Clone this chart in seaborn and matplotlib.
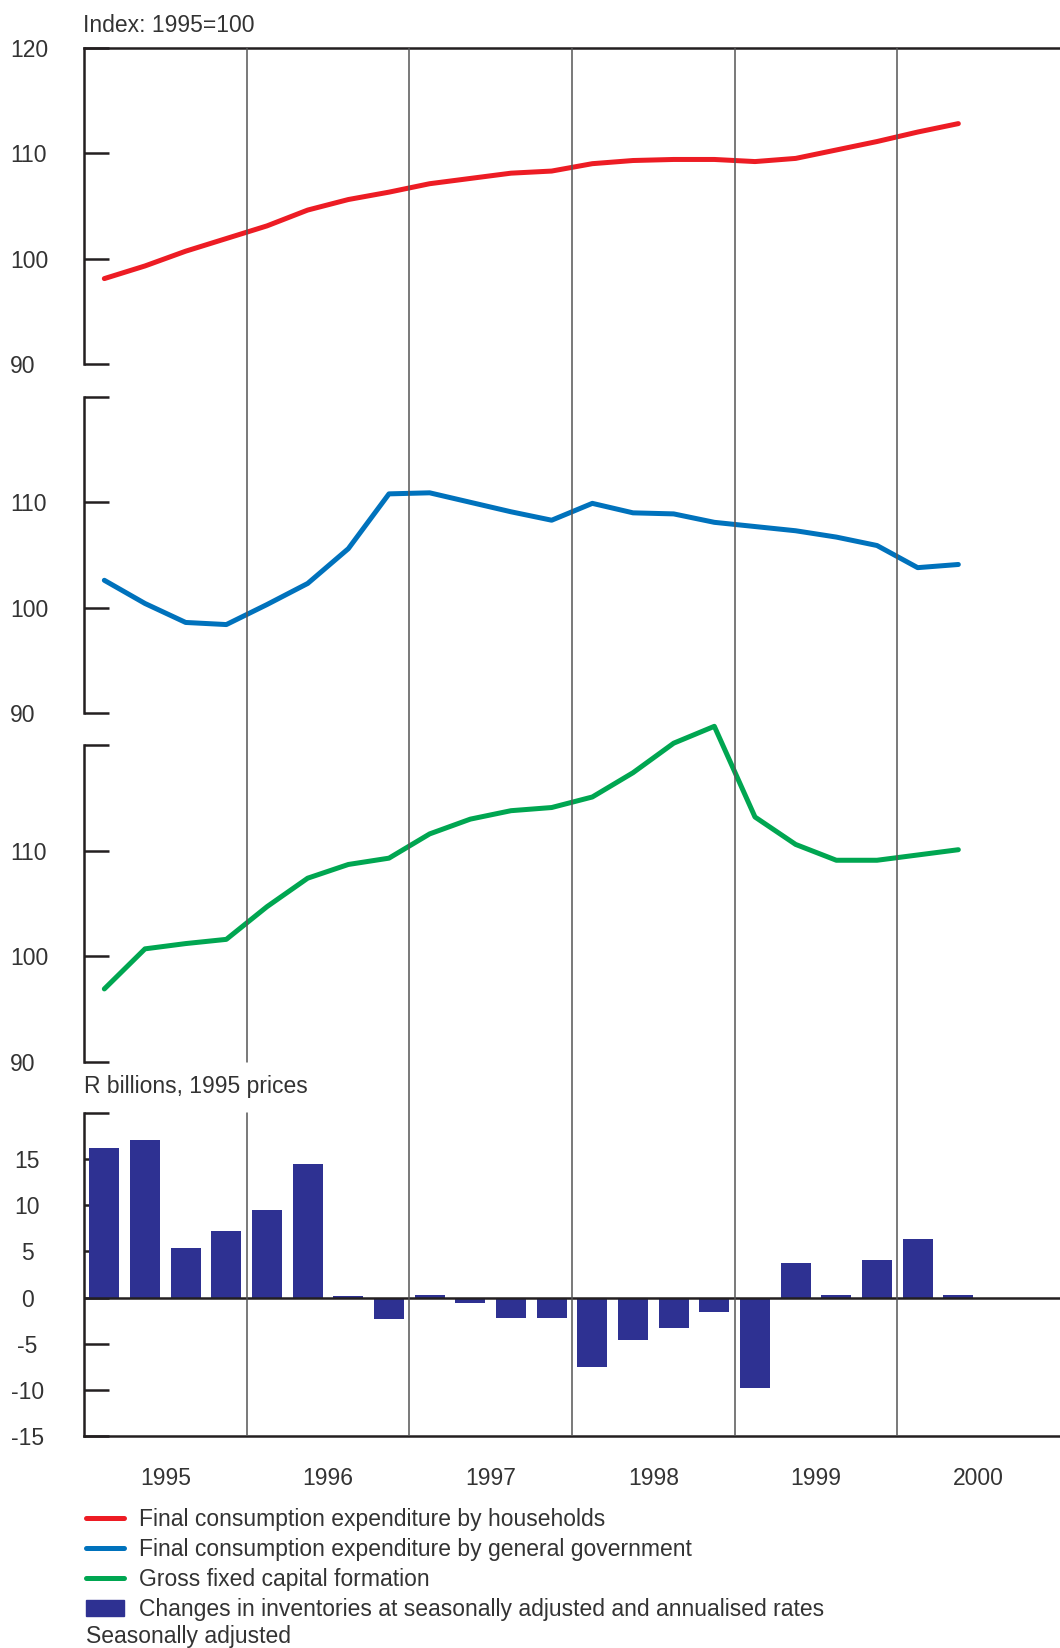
import numpy as np
import pandas as pd
import matplotlib
matplotlib.use("Agg")
import matplotlib.pyplot as plt
import seaborn as sns
from matplotlib.patches import Patch

# Quarterly data, 1995Q1 - 2000Q2
quarters = pd.period_range("1995Q1", "2000Q2", freq="Q")
households = [98.1, 99.3, 100.7, 101.9, 103.1, 104.6, 105.6, 106.3, 107.1, 107.6, 108.1,
              108.3, 109.0, 109.3, 109.4, 109.4, 109.2, 109.5, 110.3, 111.1, 112.0, 112.8]
government = [102.6, 100.4, 98.6, 98.4, 100.3, 102.3, 105.6, 110.8, 110.9, 110.0, 109.1,
              108.3, 109.9, 109.0, 108.9, 108.1, 107.7, 107.3, 106.7, 105.9, 103.8, 104.1]
gfcf = [96.9, 100.7, 101.2, 101.6, 104.7, 107.4, 108.7, 109.3, 111.6, 113.0, 113.8,
        114.1, 115.1, 117.4, 120.2, 121.8, 113.2, 110.6, 109.1, 109.1, 109.6, 110.1]
inventories = [16.2, 17.1, 5.4, 7.2, 9.5, 14.5, 0.2, -2.3, 0.3, -0.6, -2.2,
               -2.2, -7.5, -4.6, -3.3, -1.6, -9.8, 3.8, 0.3, 4.1, 6.3, 0.3]

years = [1995, 1996, 1997, 1998, 1999, 2000]
year_bounds = [1996, 1997, 1998, 1999, 2000]
index_ticks = [90, 100, 110, 120]
bar_ticks = [-15, -10, -5, 0, 5, 10, 15, 20]

labels = ["Final consumption expenditure by households",
          "Final consumption expenditure by general government",
          "Gross fixed capital formation",
          "Changes in inventories at seasonally adjusted and annualised rates"]
colors = ["#ED1C24", "#0072BC", "#00A651", "#2E3192"]

# quarter mid-points as fractional years
x = np.array([q.year + (q.quarter - 0.5) / 4 for q in quarters])

sns.set_style("white")
plt.rcParams["font.family"] = ["Liberation Sans", "DejaVu Sans"]
plt.rcParams["text.color"] = "#333333"

W, H = 1060, 1648
fig = plt.figure(figsize=(W / 100, H / 100), dpi=100)


def rect(top, bottom, left=84, right=1060):
    return [left / W, 1 - bottom / H, (right - left) / W, (bottom - top) / H]


ink = "#231F20"
fs = 16.5

ax1 = fig.add_axes(rect(47.7, 364))
ax2 = fig.add_axes(rect(396.9, 713.1))
ax3 = fig.add_axes(rect(745.3, 1061.7))
ax4 = fig.add_axes(rect(1113.3, 1435.7))

# Index panels
for ax, vals, col in [(ax1, households, colors[0]), (ax2, government, colors[1]), (ax3, gfcf, colors[2])]:
    sns.lineplot(x=x, y=vals, ax=ax, color=col, linewidth=3.6,
                 solid_capstyle="round", clip_on=False)
    ax.set_ylim(90, 120)
    ax.set_yticks(index_ticks)
    if ax is ax1:
        ax.set_yticklabels([str(t) for t in index_ticks])
    else:
        ax.set_yticklabels([str(t) for t in index_ticks[:-1]] + [""])
    for lab in ax.get_yticklabels():
        lab.set_horizontalalignment("left")
    ax.tick_params(axis="y", direction="in", length=18, width=1.8, color=ink,
                   pad=53.3, labelsize=fs, labelcolor="#333333")
    ax.set_xticks([])

# Inventories panel
sns.barplot(x=x, y=inventories, ax=ax4, native_scale=True, color=colors[3],
            saturation=1, width=0.73, errorbar=None, linewidth=0)
ax4.axhline(0, color=ink, lw=1.8, zorder=3)
ax4.set_ylim(-15, 20)
ax4.set_yticks(bar_ticks)
ax4.set_yticklabels([str(t) for t in bar_ticks[:-1]] + [""])
ax4.tick_params(axis="y", direction="in", length=18, width=1.8, color=ink,
                pad=40.7, labelsize=fs, labelcolor="#333333")
for lab in ax4.get_yticklabels():
    lab.set_horizontalalignment("center")
ax4.set_xticks([y + 0.5 for y in years])
ax4.set_xticklabels([str(y) for y in years])
ax4.tick_params(axis="x", length=0, pad=22.3, labelsize=fs, labelcolor="#333333")

for ax in [ax1, ax2, ax3, ax4]:
    ax.set_xlim(1995, 2001)
    ax.set_xlabel("")
    ax.set_ylabel("")
    ax.set_facecolor("none")
    ax.yaxis.set_ticks_position("left")
    for side in ["top", "right", "bottom", "left"]:
        ax.spines[side].set_visible(False)
    ax.spines["left"].set_visible(True)
    ax.spines["left"].set_color(ink)
    ax.spines["left"].set_linewidth(1.8)

for ax, side in [(ax1, "top"), (ax4, "bottom")]:
    ax.spines[side].set_visible(True)
    ax.spines[side].set_color(ink)
    ax.spines[side].set_linewidth(1.8)

# year separators spanning all panels
ov = fig.add_axes(rect(47.7, 1435.7), zorder=5)
ov.set_xlim(1995, 2001)
ov.set_ylim(0, 1)
ov.axis("off")
ov_pos = ov.get_position()
gap_lo = (ax4.get_position().y1 - ov_pos.y0) / ov_pos.height
gap_hi = (ax3.get_position().y0 - ov_pos.y0) / ov_pos.height
for yb in year_bounds:
    if yb == year_bounds[0]:
        ov.axvline(yb, 0, gap_lo, color="#555555", lw=1.1)
        ov.axvline(yb, gap_hi, 1, color="#555555", lw=1.1)
    else:
        ov.axvline(yb, 0, 1, color="#555555", lw=1.1)

fig.text(83 / W, 1 - 32.3 / H, "Index: 1995=100", fontsize=fs, va="baseline", ha="left")
fig.text(84 / W, 1 - 1093.3 / H, "R billions, 1995 prices", fontsize=fs, va="baseline", ha="left")

handles = [ax1.lines[0], ax2.lines[0], ax3.lines[0], Patch(color=colors[3])]
fig.legend(handles, labels, loc="upper left", bbox_to_anchor=(85.5 / W, 1 - 1508 / H),
           frameon=False, fontsize=fs, borderpad=0, borderaxespad=0,
           handlelength=1.66, handletextpad=0.66, labelspacing=0.3, handleheight=0.7)
fig.text(85.5 / W, 1 - 1637 / H, "Seasonally adjusted", fontsize=fs, va="center", ha="left")

fig.savefig("out.png", dpi=100)
